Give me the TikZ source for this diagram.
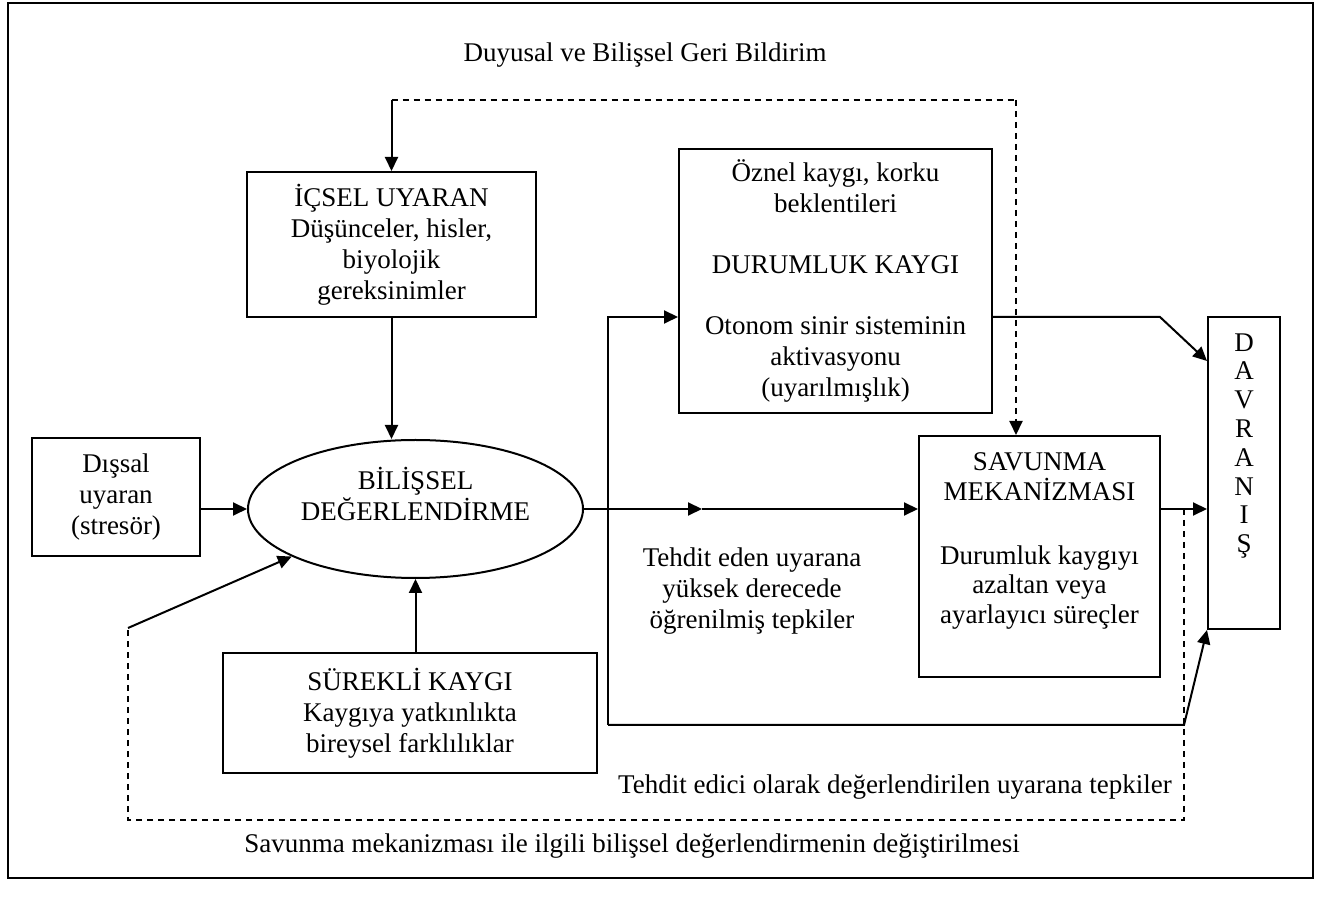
\documentclass[tikz,border=0pt]{standalone}
\usepackage{fontspec}
\setmainfont{Liberation Serif}
\usetikzlibrary{shapes.geometric,arrows.meta,positioning}

\begin{document}
\begin{tikzpicture}[
    x=0.5pt, y=-0.5pt,
    every node/.style={font=\fontsize{13.5}{15.5}\selectfont},
    box/.style={rectangle, draw, line width=1pt, align=center, inner sep=0pt},
    lbl/.style={align=center, inner sep=0pt},
    arr/.style={-{Triangle[length=7pt, width=6.5pt]}, line width=1pt},
    dashline/.style={line width=1pt, dash pattern=on 3pt off 2.5pt},
    frame/.style={line width=1.3pt}
]
\useasboundingbox (0,0) rectangle (1318,897);

% Frame
\draw[frame] (8,3) rectangle (1313,878);

% Title
\node[lbl] (geribildirim) at (645,55) {Duyusal ve Bilişsel Geri Bildirim};

% Boxes
\node[box, minimum width=144.5pt, minimum height=72.5pt] (icsel) at (391.5,244.5) {İÇSEL UYARAN\\Düşünceler, hisler,\\biyolojik\\gereksinimler};
\node[box, minimum width=84pt, minimum height=59pt] (dissal) at (116,497) {Dışsal\\uyaran\\(stresör)};
\node[ellipse, draw, line width=1pt, inner sep=0pt, minimum width=167.5pt, minimum height=69pt] (bilissel) at (415.5,509) {};
\node[lbl] (bilisselyazi) at (415.5,494) {BİLİŞSEL\\DEĞERLENDİRME};
\node[box, minimum width=187pt, minimum height=60pt] (surekli) at (410,713) {SÜREKLİ KAYGI\\Kaygıya yatkınlıkta\\bireysel farklılıklar};
\node[box, minimum width=156.5pt, minimum height=132pt] (durumluk) at (835.5,281) {Öznel kaygı, korku\\beklentileri\\[15pt]DURUMLUK KAYGI\\[15pt]Otonom sinir sisteminin\\aktivasyonu\\(uyarılmışlık)};
\node[box, minimum width=120.5pt, minimum height=120.5pt] (savunma) at (1039.5,556.5) {};
\node[lbl, font=\fontsize{13.5}{14.8}\selectfont] (savunmayazi) at (1039.5,541) {SAVUNMA\\MEKANİZMASI\\[17pt]Durumluk kaygıyı\\azaltan veya\\ayarlayıcı süreçler};
\node[box, minimum width=36pt, minimum height=156pt] (davranis) at (1244,473) {};
\node[lbl, font=\fontsize{13.5}{14.4}\selectfont] (davranisyazi) at (1244,446) {D\\A\\V\\R\\A\\N\\I\\Ş};

% Labels
\node[lbl] (ogrenilmis) at (752,591) {Tehdit eden uyarana\\yüksek derecede\\öğrenilmiş tepkiler};
\node[lbl] (tepkiler) at (895,787) {Tehdit edici olarak değerlendirilen uyarana tepkiler};
\node[lbl] (degistirme) at (632,846) {Savunma mekanizması ile ilgili bilişsel değerlendirmenin değiştirilmesi};

% Bends
\coordinate (fbL) at (391.5,100);
\coordinate (fbR) at (1016,100);
\coordinate (midarr) at (702,509);
\coordinate (splitT) at (608,317);
\coordinate (splitB) at (608,725);
\coordinate (bendT) at (1160,317);
\coordinate (bendB) at (1184,725);
\coordinate (fbS) at (1184,509);
\coordinate (fbSE) at (1184,820);
\coordinate (fbSW) at (128,820);
\coordinate (fbW) at (128,628);

% Top feedback
\draw[dashline] (fbL) -- (fbR);
\draw[dashline, arr] (fbR) -- (fbR |- savunma.north);
\draw[arr] (fbL) -- (icsel.north);

% Into appraisal
\draw[arr] (icsel.south) -- (icsel.south |- bilissel.north);
\draw[arr] (dissal.east |- bilissel.west) -- (bilissel.west);
\draw[arr] (bilissel.south |- surekli.north) -- (bilissel.south);

% Main line
\draw[arr] (bilissel.east) -- (midarr);
\draw[arr] (midarr) -- (savunma.west |- midarr);

% State anxiety branch
\draw[arr] (splitB) -- (splitT) -- (durumluk.west |- splitT);
\draw[arr] (splitB) -- (bendB) -- (davranis.south west);
\draw[arr] (durumluk.east |- bendT) -- (bendT) -- ([yshift=-22.5pt]davranis.north west);
\draw[arr] (savunma.east |- midarr) -- (davranis.west |- midarr);

% Bottom feedback
\draw[dashline] (fbS) -- (fbSE) -- (fbSW) -- (fbW);
\draw[arr] (fbW) -- (bilissel.201);

\end{tikzpicture}
\end{document}
